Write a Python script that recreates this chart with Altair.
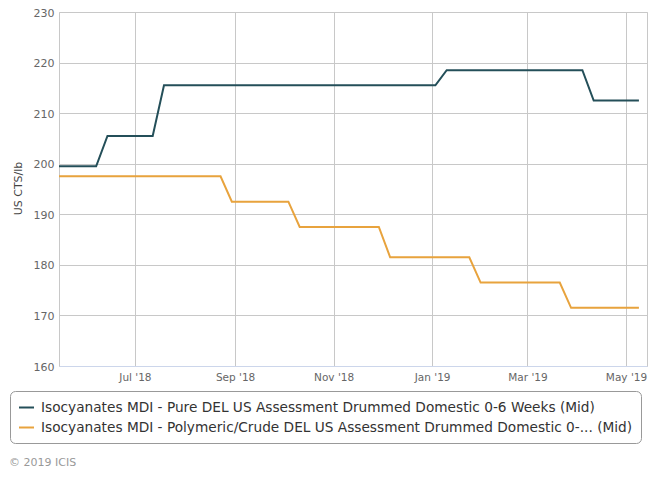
import altair as alt
import pandas as pd

# ---- data ----
pure_name = "Isocyanates MDI - Pure DEL US Assessment Drummed Domestic 0-6 Weeks (Mid)"
poly_name = "Isocyanates MDI - Polymeric/Crude DEL US Assessment Drummed Domestic 0-... (Mid)"
series_names = [pure_name, poly_name]
series_colors = ["#244f59", "#e8a33d"]

pure_dates = ["2018-05-15", "2018-06-07", "2018-06-14", "2018-07-12", "2018-07-19",
              "2019-01-03", "2019-01-10", "2019-04-04", "2019-04-11", "2019-05-09"]
pure_values = [199.5, 199.5, 205.5, 205.5, 215.5, 215.5, 218.5, 218.5, 212.5, 212.5]

poly_dates = ["2018-05-15", "2018-08-23", "2018-08-30", "2018-10-04", "2018-10-11",
              "2018-11-29", "2018-12-06", "2019-01-24", "2019-01-31", "2019-03-21",
              "2019-03-28", "2019-05-09"]
poly_values = [197.5, 197.5, 192.5, 192.5, 187.5, 187.5, 181.5, 181.5, 176.5, 176.5,
               171.5, 171.5]

x_tick_dates = ["2018-07-01", "2018-09-01", "2018-11-01", "2019-01-01", "2019-03-01", "2019-05-01"]
x_domain = ["2018-05-15", "2019-05-14"]
y_ticks = [160, 170, 180, 190, 200, 210, 220, 230]
y_title = "US CTS/lb"
footer_text = "© 2019 ICIS"

df = pd.concat([
    pd.DataFrame({"date": pure_dates, "value": pure_values, "series": pure_name, "order": 0}),
    pd.DataFrame({"date": poly_dates, "value": poly_values, "series": poly_name, "order": 1}),
])

FONT = "DejaVu Sans"


def to_dt(s):
    y, m, d = (int(p) for p in s.split("-"))
    return alt.DateTime(year=y, month=m, date=d)


lines = alt.Chart(df).mark_line(strokeWidth=2, interpolate="linear").encode(
    x=alt.X("date:T",
            scale=alt.Scale(domain=[to_dt(d) for d in x_domain]),
            axis=alt.Axis(values=[to_dt(d) for d in x_tick_dates], format="%b '%y",
                          title=None, grid=True, gridColor="#c8c8c8",
                          domainColor="#ccd6eb", tickSize=0, labelPadding=6,
                          labelColor="#666666", labelFontSize=10.5, labelFont=FONT)),
    y=alt.Y("value:Q",
            scale=alt.Scale(domain=[160, 230], nice=False, zero=False),
            axis=alt.Axis(values=y_ticks, title=y_title, grid=True, gridColor="#c8c8c8",
                          domain=False, tickSize=0, labelPadding=5, labelOffset=1,
                          labelColor="#666666", labelFontSize=11, labelFont=FONT,
                          titleFont=FONT, titleFontSize=11, titleFontWeight="normal",
                          titleColor="#444444", titleX=-41, titleY=176,
                          titleAngle=-90, titleBaseline="middle", titleAlign="center")),
    color=alt.Color("series:N",
                    scale=alt.Scale(domain=series_names, range=series_colors),
                    legend=alt.Legend(title=None, orient="none", legendX=-49, legendY=379,
                                      direction="vertical", symbolType="stroke",
                                      symbolSize=225, symbolStrokeWidth=2,
                                      labelFont=FONT, labelFontSize=13.7,
                                      labelColor="#333333", labelLimit=1000,
                                      labelOffset=6, rowPadding=4, padding=8,
                                      strokeColor="#999999", cornerRadius=5,
                                      fillColor="#ffffff")),
    order="order:Q",
    detail="series:N",
)

footer = alt.Chart(pd.DataFrame({"t": [footer_text]})).mark_text(
    align="left", baseline="middle", font=FONT, fontSize=11, color="#999999"
).encode(text="t:N", x=alt.value(-50), y=alt.value(451))

chart = alt.layer(lines, footer).properties(
    width=588, height=354,
    autosize=alt.AutoSizeParams(type="none"),
    padding={"left": 51, "top": 4, "right": 13, "bottom": 104},
).configure_view(stroke="#c8c8c8", strokeWidth=1)

chart.save("out.html", embed_options={"renderer": "svg", "actions": False})
